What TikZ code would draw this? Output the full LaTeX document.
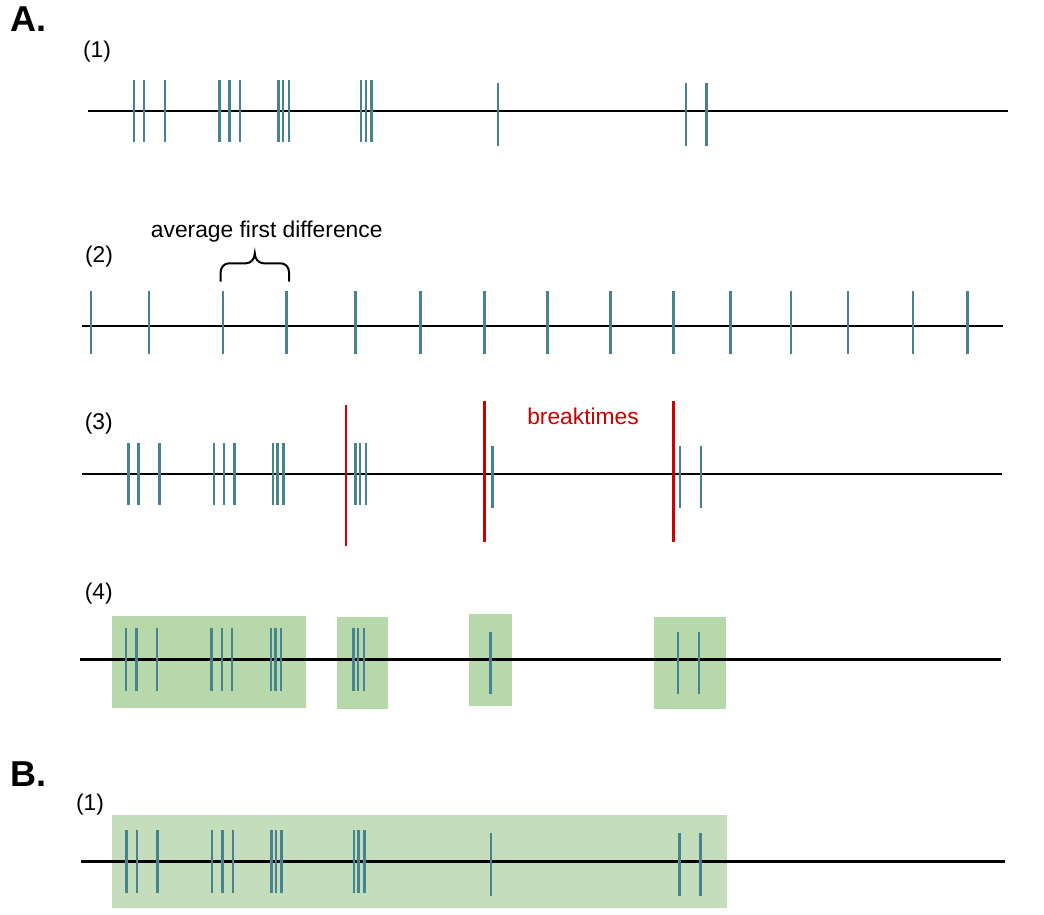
\documentclass[tikz,border=0pt]{standalone}
\usepackage{fontspec}
\setmainfont{Liberation Sans}
\definecolor{spikeblue}{RGB}{70,131,144}
\definecolor{breakred}{RGB}{204,0,0}
\definecolor{groupgreen}{RGB}{183,216,171}
\definecolor{burstgreen}{RGB}{196,222,187}
\tikzset{
        axis/.style={line width=2pt}, % the time lines
        spike/.style={draw=spikeblue},
        breakline/.style={draw=breakred},
        groupbox/.style={fill=groupgreen},
        panel/.style={font=\fontsize{36}{40}\selectfont\bfseries, inner sep=0pt, anchor=base west},
        rowlabel/.style={font=\fontsize{22.8}{26}\selectfont, inner sep=0pt}
        }

\begin{document}
\begin{tikzpicture}[x=1pt, y=-1pt]
        \useasboundingbox (0,0) rectangle (1044,915);
        % panel A
        \node[panel](pA) at (10,32){A.};
        \node[rowlabel](l1) at (97,51.5){(1)};
        \coordinate (r1s) at (88,110.7);
        \coordinate (r1e) at (1008,110.7);
        \draw[axis] (r1s) -- (r1e);
        \foreach \x/\w in {133.7/2, 143.7/2, 165/2, 219.3/3, 229.3/3, 240/2, 278.7/3, 282.7/2, 288.7/2, 360.7/2, 365.7/2, 371.3/3}
            \draw[spike, line width=\w pt] (\x,80) -- (\x,141.7);
        \foreach \x/\w in {497.7/2, 686/2, 706.3/3}
            \draw[spike, line width=\w pt] (\x,83) -- (\x,145.7);

        \node[rowlabel](l2) at (99,256.7){(2)};
        \node[rowlabel](avg) at (266.7,231.7){average first difference};
        \coordinate (r2s) at (81.7,326);
        \coordinate (r2e) at (1003.3,326);
        \draw[axis] (r2s) -- (r2e);
        \foreach \x/\w in {91/2, 149.3/2, 222.7/2, 286.7/3, 355/3, 420/3, 484.3/3, 547/3, 610.3/3, 673.3/3, 730.3/3, 790.7/2, 847.7/2, 912.7/2, 967.7/3}
            \draw[spike, line width=\w pt] (\x,291) -- (\x,354);
        \coordinate (bl) at (220.7,281.7);
        \coordinate (br) at (289,281.7);
        \draw[line width=2pt] (bl) -- (220.7,272) to[out=90,in=180] (229,263.3) -- (246,263.3)
              to[out=0,in=-90] (254.8,253.3) to[out=-90,in=180] (263.6,263.3) -- (280.7,263.3)
              to[out=0,in=90] (289,272) -- (br);

        \node[rowlabel](l3) at (98.8,424){(3)};
        \node[rowlabel, text=breakred](bt) at (583,416){breaktimes};
        \coordinate (r3s) at (82.3,473.7);
        \coordinate (r3e) at (1002,473.7);
        \draw[axis] (r3s) -- (r3e);
        \foreach \x/\w in {128.3/3, 138.3/3, 159.3/3, 214/2, 223.7/2, 234.3/3, 272.7/2, 277.3/3, 283.3/3, 355/3, 360/2, 365.7/2}
            \draw[spike, line width=\w pt] (\x,443.3) -- (\x,505);
        \foreach \x/\w in {492.3/3, 679.6/2, 700.7/2}
            \draw[spike, line width=\w pt] (\x,446) -- (\x,507.7);
        \draw[breakline, line width=2pt] (346,405) -- (346,545.7);
        \foreach \x in {484.3, 673.2}
            \draw[breakline, line width=3pt] (\x,401) -- (\x,541.7);

        \node[rowlabel](l4) at (98.8,594){(4)};
        \fill[groupbox] (112,616) rectangle (306,707.7);
        \fill[groupbox] (337,617) rectangle (388,708.7);
        \fill[groupbox] (469,614) rectangle (512,706);
        \fill[groupbox] (654,617) rectangle (726,709);
        \coordinate (r4s) at (80,659.3);
        \coordinate (r4e) at (1001,659.3);
        \draw[axis, line width=3pt] (r4s) -- (r4e);
        \foreach \x/\w in {126/2, 136.3/3, 157/2, 211.3/3, 222/2, 232/2, 271/2, 275.3/3, 281/2, 353.3/3, 358/2, 363.7/2}
            \draw[spike, line width=\w pt] (\x,628) -- (\x,690.7);
        \foreach \x/\w in {490.3/3, 678/2, 698.7/2}
            \draw[spike, line width=\w pt] (\x,632) -- (\x,694);

        % panel B
        \node[panel](pB) at (10,786){B.};
        \node[rowlabel](m1) at (90,805){(1)};
        \fill[burstgreen] (112,815) rectangle (727,907.7);
        \coordinate (s1s) at (81,861.3);
        \coordinate (s1e) at (1004.6,861.3);
        \draw[axis, line width=3pt] (s1s) -- (s1e);
        \foreach \x/\w in {126/3, 137/2, 157.3/3, 212/2, 222.3/3, 233/2, 271/3, 276/2, 281.3/3, 353.7/2, 358.3/3, 364.3/3}
            \draw[spike, line width=\w pt] (\x,830) -- (\x,892.7);
        \foreach \x/\w in {491.3/2, 679.7/3, 700.6/3}
            \draw[spike, line width=\w pt] (\x,833) -- (\x,895.7);
\end{tikzpicture}
\end{document}
